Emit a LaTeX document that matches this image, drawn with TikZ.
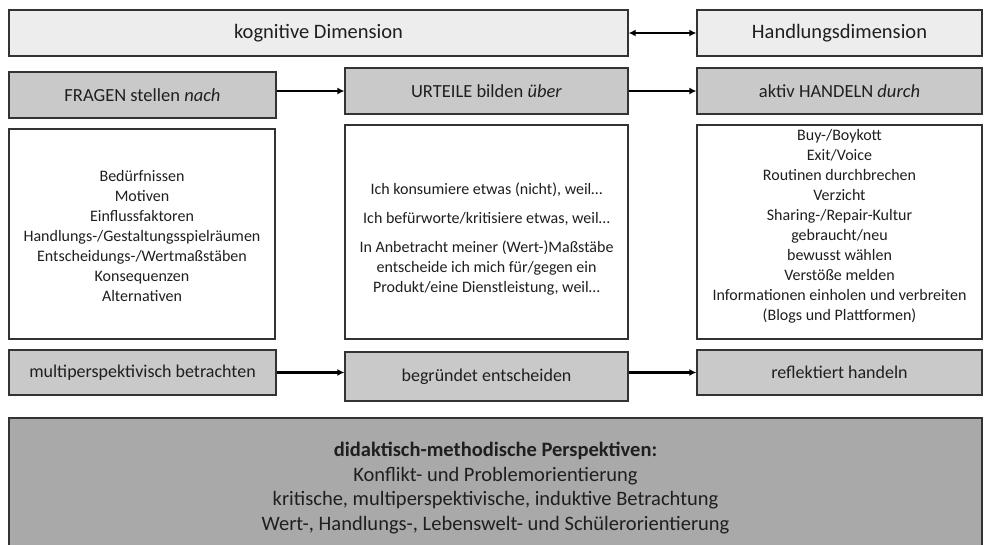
\documentclass[tikz,border=0pt]{standalone}
\usepackage{fontspec}
\setmainfont{Carlito}
\usetikzlibrary{arrows.meta, positioning}

\definecolor{hellgrau}{HTML}{EDEDED}
\definecolor{mittelgrau}{HTML}{C9C9C9}
\definecolor{dunkelgrau}{HTML}{A9A9A9}

\begin{document}
\begin{tikzpicture}[
        x=1pt, y=-1pt,
        every node/.style={draw=black!80, line width=1.3pt, text=black!88, align=center, inner sep=0pt},
        arrow/.style={-{Latex[length=7pt,width=7pt]}, line width=2.5pt},
        doppelarrow/.style={{Latex[length=7pt,width=7pt]}-{Latex[length=7pt,width=7pt]}, line width=2.5pt}
    ]

    \tikzset{
    dimension/.style={fill=hellgrau, minimum height=46pt, font=\fontsize{20.5}{24}\selectfont},
    kopf/.style={fill=mittelgrau, minimum height=46pt, font=\fontsize{18.5}{22}\selectfont},
    inhalt/.style={fill=white, font=\fontsize{16}{20}\selectfont},
    fuss/.style={fill=mittelgrau, minimum height=45pt, font=\fontsize{18}{22}\selectfont}
}

    \useasboundingbox (0,0) rectangle (990,545);
    \clip (0,0) rectangle (990,545);

    \node[dimension, minimum width=619pt] (kog) at (318.5,33) {kognitive Dimension};
    \node[dimension, minimum width=285pt] (hand) at (839.5,33) {Handlungsdimension};

    \node[kopf, minimum width=267pt] (fragen) at (142.5,95) {FRAGEN stellen \textit{nach}};
    \node[kopf, minimum width=283pt] (urteile) at (486.5,91) {URTEILE bilden \textit{über}};
    \node[kopf, minimum width=285pt] (handeln) at (839.5,91) {aktiv HANDELN \textit{durch}};

    % Listen
    \node[inhalt, minimum width=266pt, minimum height=210pt] (fragenliste) at (142,234)
        {\rule{0pt}{15pt}Bedürfnissen\\Motiven\\Einflussfaktoren\\Handlungs-/Gestaltungsspielräumen\\Entscheidungs-/Wertmaßstäben\\Konsequenzen\\Alternativen};
    \node[inhalt, minimum width=283pt, minimum height=214pt] (urteilsliste) at (486.5,232)
        {\rule{0pt}{26pt}Ich konsumiere etwas (nicht), weil…\\[9pt]Ich befürworte/kritisiere etwas, weil…\\[9pt]In Anbetracht meiner (Wert-)Maßstäbe\\entscheide ich mich für/gegen ein\\Produkt/eine Dienstleistung, weil…};
    \node[inhalt, minimum width=285pt, minimum height=214pt] (handlungsliste) at (839.5,232)
        {Buy-/Boykott\\Exit/Voice\\Routinen durchbrechen\\Verzicht\\Sharing-/Repair-Kultur\\gebraucht/neu\\bewusst wählen\\Verstöße melden\\Informationen einholen und verbreiten\\(Blogs und Plattformen)\rule[-15pt]{0pt}{15pt}};

    \node[fuss, minimum width=267pt] (multi) at (142.5,372.5) {multiperspektivisch betrachten};
    \node[fuss, minimum width=283pt, minimum height=49pt] (begr) at (486.5,376.5) {begründet entscheiden};
    \node[fuss, minimum width=285pt] (refl) at (839.5,372.5) {reflektiert handeln};

    \node[fill=dunkelgrau, minimum width=973pt, minimum height=140pt, font=\fontsize{20.5}{24.7}\selectfont] (didaktik) at (495.5,488)
        {\textbf{didaktisch-methodische Perspektiven:}\\Konflikt- und Problemorientierung\\kritische, multiperspektivische, induktive Betrachtung\\Wert-, Handlungs-, Lebenswelt- und Schülerorientierung};

    \draw[doppelarrow] (kog) -- (hand);
    \draw[arrow] (fragen.east |- urteile.west) -- (urteile.west);
    \draw[arrow] (urteile) -- (handeln);
    \draw[arrow] (multi) -- (multi -| begr.west);
    \draw[arrow] (begr.east |- multi.east) -- (refl);
    \end{tikzpicture}
\end{document}
